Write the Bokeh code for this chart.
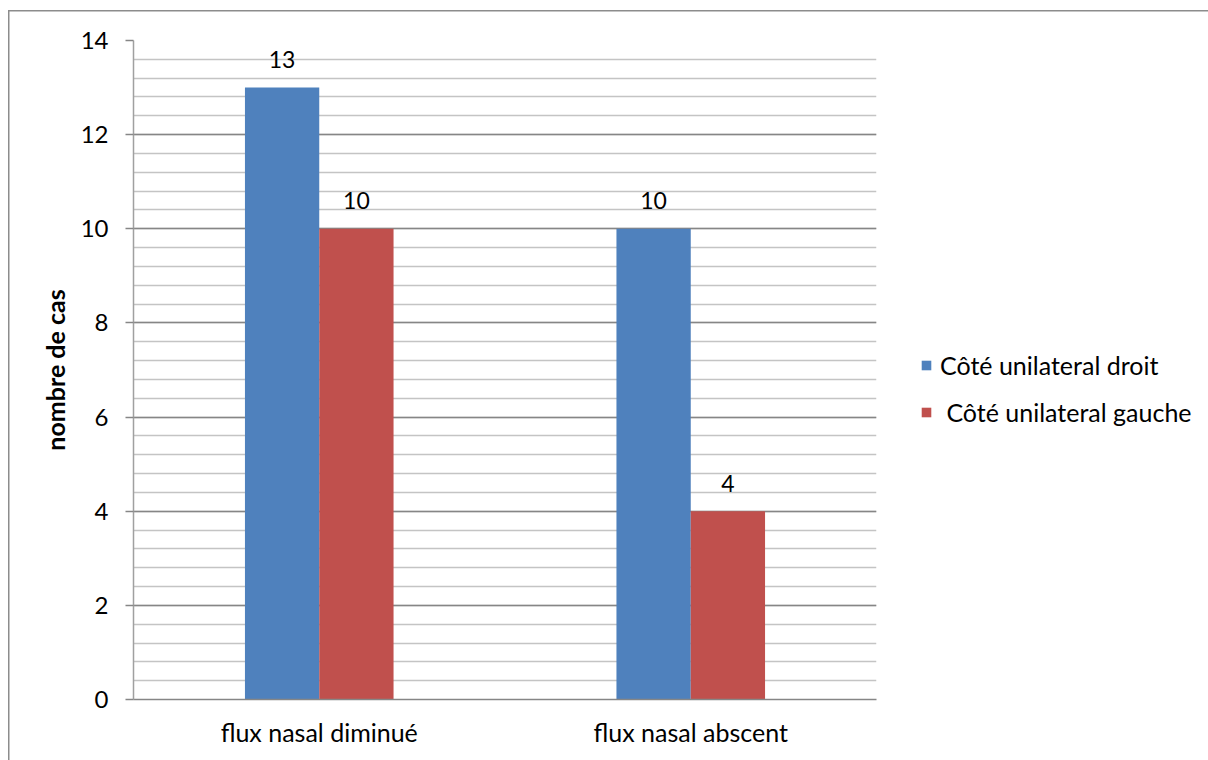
from bokeh.plotting import figure
from bokeh.models import (ColumnDataSource, FactorRange, Range1d, SingleIntervalTicker,
                          LabelSet, Legend, LegendItem)
from bokeh.core.properties import value
from bokeh.transform import dodge
from bokeh.embed import file_html
from bokeh.resources import INLINE

# Data
categories = ["flux nasal diminué", "flux nasal abscent"]
droit = [13, 10]
gauche = [10, 4]
series_names = ["Côté unilateral droit", "\u00a0Côté unilateral gauche"]
y_ticks_max = 14

BLUE = "#4F81BD"
RED = "#C0504D"
FONT = "Lato"
BORDER = "#8c8c8c"

src = ColumnDataSource(dict(cat=categories, droit=droit, gauche=gauche,
                            droit_txt=[str(v) for v in droit],
                            gauche_txt=[str(v) for v in gauche]))

p = figure(frame_width=743, frame_height=659,
           x_range=FactorRange(*categories, range_padding=0),
           y_range=Range1d(0, y_ticks_max), output_backend="svg", toolbar_location=None,
           min_border_left=133, min_border_right=0, min_border_top=40, min_border_bottom=61)
p.outline_line_color = None
p.background_fill_color = "white"
p.border_fill_color = None

# thin frame around the whole chart (left and top edges), drawn behind the canvas
p.styles = {
    "background-color": "white",
    "background-image": f"linear-gradient({BORDER},{BORDER}), linear-gradient({BORDER},{BORDER})",
    "background-size": "1.5px 760px, 1208px 1.5px",
    "background-position": "8px 10px, 8px 10px",
    "background-repeat": "no-repeat",
}

r1 = p.vbar(x=dodge("cat", -0.1, range=p.x_range), top="droit", width=0.2, source=src,
            fill_color=BLUE, line_color=None)
r2 = p.vbar(x=dodge("cat", 0.1, range=p.x_range), top="gauche", width=0.2, source=src,
            fill_color=RED, line_color=None)

# value labels above bars
for col, off in (("droit", -0.1), ("gauche", 0.1)):
    p.add_layout(LabelSet(x=dodge("cat", off, range=p.x_range), y=col, text=col + "_txt",
                          source=src, text_align="center", text_baseline="middle",
                          y_offset=28, text_font=value(FONT), text_font_size="23px",
                          text_color="black"))

# y axis and grid
ticker = SingleIntervalTicker(interval=2, num_minor_ticks=5)
p.yaxis.ticker = ticker
p.ygrid.ticker = ticker
p.ygrid.grid_line_color = "#868686"
p.ygrid.grid_line_width = 1.5
p.ygrid.minor_grid_line_color = "#c4c4c4"
p.ygrid.minor_grid_line_width = 1.5
p.xgrid.grid_line_color = None

p.yaxis.axis_line_color = "#a0a0a0"
p.yaxis.axis_line_width = 1.5
p.yaxis.major_tick_line_color = "#868686"
p.yaxis.major_tick_line_width = 1.5
p.yaxis.major_tick_out = 8
p.yaxis.major_tick_in = 0
p.yaxis.minor_tick_line_color = None
p.yaxis.minor_tick_out = 0
p.yaxis.minor_tick_in = 0
p.yaxis.major_label_standoff = 17
p.yaxis.major_label_text_font = FONT
p.yaxis.major_label_text_font_size = "24px"
p.yaxis.major_label_text_color = "black"
p.yaxis.axis_label = "nombre de cas"
p.yaxis.axis_label_text_font = FONT
p.yaxis.axis_label_text_font_style = "bold"
p.yaxis.axis_label_text_font_size = "25px"
p.yaxis.axis_label_text_color = "black"
p.yaxis.axis_label_standoff = 8

p.xaxis.axis_line_color = "#868686"
p.xaxis.axis_line_width = 1.5
p.xaxis.major_tick_line_color = None
p.xaxis.minor_tick_line_color = None
p.xaxis.major_tick_out = 0
p.xaxis.major_tick_in = 0
p.xaxis.minor_tick_out = 0
p.xaxis.major_label_standoff = 17
p.xaxis.major_label_text_font = FONT
p.xaxis.major_label_text_font_size = "25px"
p.xaxis.major_label_text_color = "black"

# legend on the right
legend = Legend(items=[LegendItem(label=series_names[0], renderers=[r1]),
                       LegendItem(label=series_names[1], renderers=[r2])],
                location=(44, 272), orientation="vertical",
                glyph_width=12, glyph_height=12, label_standoff=8,
                label_height=24, spacing=17, padding=0, margin=0,
                border_line_color=None, background_fill_alpha=0,
                label_text_font=FONT, label_text_font_size="25px",
                label_text_color="black")
p.add_layout(legend, "right")

open("out.html", "w").write(file_html(p, INLINE))
